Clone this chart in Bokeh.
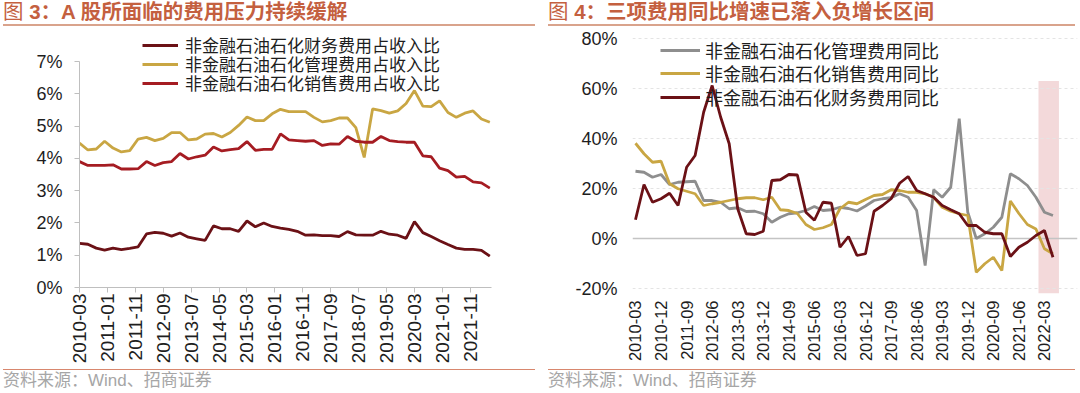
import math
from bokeh.plotting import figure
from bokeh.models import (Range1d, FixedTicker, PrintfTickFormatter, Legend, LegendItem,
                          Span, Div, ColumnDataSource)
from bokeh.layouts import row, column
from bokeh.embed import file_html
from bokeh.resources import INLINE

# ---------------- data ----------------
quarters = [f"{y}-{m:02d}" for y in range(2010, 2023) for m in (3, 6, 9, 12)][:50]

# Figure 3: expense / revenue ratios (%)
fin_ratio = [1.37, 1.34, 1.22, 1.16, 1.22, 1.17, 1.21, 1.26, 1.66, 1.71,
             1.68, 1.59, 1.69, 1.56, 1.51, 1.46, 1.91, 1.82, 1.82, 1.74,
             2.06, 1.88, 2.00, 1.89, 1.84, 1.80, 1.74, 1.62, 1.63, 1.61,
             1.61, 1.58, 1.73, 1.63, 1.62, 1.62, 1.74, 1.65, 1.62, 1.52,
             2.04, 1.70, 1.58, 1.45, 1.33, 1.22, 1.18, 1.18, 1.15, 0.97]
adm_ratio = [4.47, 4.26, 4.29, 4.53, 4.32, 4.20, 4.24, 4.60, 4.65, 4.55,
             4.62, 4.80, 4.80, 4.57, 4.60, 4.75, 4.77, 4.66, 4.80, 5.02,
             5.28, 5.17, 5.17, 5.38, 5.52, 5.45, 5.45, 5.45, 5.27, 5.13,
             5.17, 5.25, 5.25, 4.95, 4.03, 5.53, 5.48, 5.40, 5.47, 5.70,
             6.10, 5.62, 5.60, 5.78, 5.42, 5.27, 5.40, 5.47, 5.22, 5.12]
sales_ratio = [3.90, 3.78, 3.78, 3.78, 3.80, 3.67, 3.67, 3.68, 3.90, 3.78,
               3.87, 3.90, 4.15, 3.98, 4.05, 4.10, 4.35, 4.23, 4.27, 4.30,
               4.52, 4.25, 4.28, 4.28, 4.76, 4.57, 4.55, 4.53, 4.55, 4.40,
               4.45, 4.44, 4.68, 4.53, 4.50, 4.50, 4.68, 4.55, 4.52, 4.50,
               4.50, 4.08, 4.05, 3.70, 3.62, 3.42, 3.44, 3.27, 3.24, 3.08]
left_tick_labels = ["2010-03", "2011-01", "2011-11", "2012-09", "2013-07", "2014-05",
                    "2015-03", "2016-01", "2016-11", "2017-09", "2018-07", "2019-05",
                    "2020-03", "2021-01", "2021-11"]
left_y_ticks = [0, 1, 2, 3, 4, 5, 6, 7]

# Figure 4: year-on-year growth (%)
adm_yoy = [26.9, 26.5, 24.5, 25.6, 21.6, 22.5, 22.7, 22.9, 15.2, 15.2,
           14.5, 11.9, 12.3, 10.8, 10.9, 9.9, 6.5, 8.5, 9.9, 10.3,
           11.2, 12.8, 11.2, 11.5, 12.5, 12.0, 11.0, 13.0, 15.2, 15.9,
           16.3, 17.9, 16.5, 11.2, -10.8, 19.5, 16.5, 20.5, 47.9, 10.5,
           0.0, 1.9, 4.5, 8.5, 25.9, 23.9, 21.2, 16.5, 10.5, 9.2]
sales_yoy = [38.1, 33.9, 30.5, 30.9, 21.9, 19.9, 18.9, 17.9, 13.2, 13.9,
             14.5, 15.2, 15.9, 16.3, 16.3, 15.5, 16.5, 11.5, 11.2, 10.0,
             5.6, 3.6, 4.3, 5.6, 11.9, 14.5, 13.9, 15.6, 17.2, 17.6,
             19.5, 19.2, 18.5, 18.5, 17.9, 16.5, 12.5, 10.9, 9.9, 9.2,
             -13.5, -10.1, -7.5, -12.8, 15.0, 10.0, 5.6, 3.8, -4.1, -6.1]
fin_yoy = [7.5, 21.6, 14.5, 15.9, 18.1, 13.2, 28.5, 33.2, 50.5, 61.2,
           48.5, 37.9, 11.9, 1.9, 1.6, 2.9, 23.2, 23.5, 25.6, 25.4,
           10.5, 7.3, 14.5, 14.1, -3.5, 0.8, -6.8, -6.1, 10.9, 13.2,
           15.9, 22.1, 24.8, 19.2, 17.9, 16.5, 13.2, 11.5, 9.9, 5.2,
           5.2, 2.5, 1.9, 1.9, -7.2, -3.5, -1.5, 1.2, 3.2, -7.5]
right_y_ticks = [-20, 0, 20, 40, 60, 80]
highlight_quarters = ["2022-03", "2022-06"]
highlight_top = 63
highlight_bottom = -22

left_names = ["非金融石油石化财务费用占收入比", "非金融石油石化管理费用占收入比",
              "非金融石油石化销售费用占收入比"]
right_names = ["非金融石油石化管理费用同比", "非金融石油石化销售费用同比",
               "非金融石油石化财务费用同比"]

# ---------------- styling ----------------
CJK = "Noto Sans CJK SC"
MIX = "Liberation Sans, Noto Sans CJK SC"
LAT = "Liberation Sans"
FIG_H = 343
DARK = "#6B1116"
GOLD = "#C9A643"
RED = "#A51C22"
GRAY = "#8E8E8E"
AXIS_GRAY = "#BFBFBF"
TXT = "#1E1E1E"


def month_index(label):
    y, m = label.split("-")
    return (int(y) - 2010) * 12 + int(m) - 3


def single_legend(label, renderer, loc, glyph_w, standoff, size):
    return Legend(items=[LegendItem(label=label, renderers=[renderer])],
                  location=loc, orientation="vertical",
                  background_fill_alpha=0, border_line_color=None,
                  glyph_width=glyph_w, glyph_height=20, label_height=30,
                  label_standoff=standoff, spacing=0, padding=0, margin=0,
                  label_text_font=MIX, label_text_font_size=size,
                  label_text_color=TXT)


# ---------------- left chart ----------------
xm = [month_index(q) for q in quarters]
src1 = ColumnDataSource(dict(x=xm, fin=fin_ratio, adm=adm_ratio, sales=sales_ratio))
x_end_left = xm[-1] + 0.6

p1 = figure(width=540, height=FIG_H, x_range=Range1d(0, x_end_left), y_range=Range1d(0, 7.93),
            output_backend="svg", toolbar_location=None, title=None,
            min_border_left=79, min_border_right=49, min_border_top=5, min_border_bottom=82)
p1.outline_line_color = None
p1.grid.visible = False
p1.background_fill_color = "white"

r_fin = p1.line("x", "fin", source=src1, line_color=DARK, line_width=2.8)
r_adm = p1.line("x", "adm", source=src1, line_color=GOLD, line_width=2.8)
r_sal = p1.line("x", "sales", source=src1, line_color=RED, line_width=2.8)

for lab, rend, yb in zip(left_names, [r_fin, r_adm, r_sal], [227.5, 208.5, 189.5]):
    p1.add_layout(single_legend(lab, rend, (63, yb), 36, 7, "17px"))

xa = p1.xaxis[0]
xa.ticker = FixedTicker(ticks=[month_index(l) for l in left_tick_labels])
xa.major_label_overrides = {month_index(l): l for l in left_tick_labels}
xa.major_label_orientation = math.pi / 2
xa.bounds = (0, x_end_left)
xa.axis_line_color = AXIS_GRAY
xa.major_tick_line_color = AXIS_GRAY
xa.major_tick_out = 5
xa.major_tick_in = 0
xa.minor_tick_line_color = None
xa.major_label_standoff = 1
xa.major_label_text_font = LAT
xa.major_label_text_font_size = "19px"
xa.major_label_text_color = TXT

ya = p1.yaxis[0]
ya.ticker = FixedTicker(ticks=left_y_ticks)
ya.formatter = PrintfTickFormatter(format="%d%%")
ya.bounds = (0, 7)
ya.axis_line_color = AXIS_GRAY
ya.major_tick_line_color = AXIS_GRAY
ya.major_tick_out = 5
ya.major_tick_in = 0
ya.minor_tick_line_color = None
ya.major_label_standoff = 12
ya.major_label_text_font = LAT
ya.major_label_text_font_size = "18px"
ya.major_label_text_color = TXT

# ---------------- right chart ----------------
xi = list(range(len(quarters)))
src2 = ColumnDataSource(dict(x=xi, adm=adm_yoy, sales=sales_yoy, fin=fin_yoy))

p2 = figure(width=538, height=FIG_H, x_range=Range1d(-0.35, 51.88), y_range=Range1d(-22, 82.8),
            output_backend="svg", toolbar_location=None, title=None,
            min_border_left=92, min_border_right=1, min_border_top=5, min_border_bottom=76)
p2.outline_line_color = None
p2.xgrid.visible = False
p2.ygrid.ticker = FixedTicker(ticks=[t for t in right_y_ticks if t != 0])
p2.ygrid.grid_line_color = "#E4E4E4"
p2.ygrid.grid_line_dash = "3 3"

hl_l = quarters.index(highlight_quarters[0]) - 0.7
hl_r = quarters.index(highlight_quarters[1]) + 0.7
p2.quad(left=[hl_l], right=[hl_r], bottom=[highlight_bottom], top=[highlight_top],
        fill_color="#F3D9DA", line_color=None, level="underlay")
zero = Span(location=0, dimension="width", line_color="#C4C4C4", line_width=1.5, level="underlay")
p2.add_layout(zero)

g_adm = p2.line("x", "adm", source=src2, line_color=GRAY, line_width=2.8)
g_sal = p2.line("x", "sales", source=src2, line_color=GOLD, line_width=2.8)
g_fin = p2.line("x", "fin", source=src2, line_color=DARK, line_width=2.8)

for lab, rend, yb in zip(right_names, [g_adm, g_sal, g_fin], [228, 204.7, 180.7]):
    p2.add_layout(single_legend(lab, rend, (28, yb), 40, 5, "18px"))

xb = p2.xaxis[0]
xb.ticker = FixedTicker(ticks=xi[::3])
xb.major_label_overrides = {i: quarters[i] for i in xi[::3]}
xb.major_label_orientation = math.pi / 2
xb.axis_line_color = None
xb.major_tick_line_color = None
xb.major_tick_out = 0
xb.major_tick_in = 0
xb.minor_tick_line_color = None
xb.major_label_standoff = 7
xb.major_label_text_font = LAT
xb.major_label_text_font_size = "16.5px"
xb.major_label_text_color = TXT

yb_ax = p2.yaxis[0]
yb_ax.ticker = FixedTicker(ticks=right_y_ticks)
yb_ax.formatter = PrintfTickFormatter(format="%d%%")
yb_ax.axis_line_color = None
yb_ax.major_tick_line_color = None
yb_ax.major_tick_out = 0
yb_ax.major_tick_in = 0
yb_ax.minor_tick_line_color = None
yb_ax.major_label_standoff = 15
yb_ax.major_label_text_font = LAT
yb_ax.major_label_text_font_size = "18px"
yb_ax.major_label_text_color = TXT

# ---------------- titles / footers ----------------
TITLE_COLOR = "#C4603F"
FAM = "'Liberation Sans', 'Noto Sans CJK SC'"


def title_div(num, text, w, margin):
    html = (f'<div style="font-family:{FAM}; font-size:20.5px; line-height:24px; '
            f'color:{TITLE_COLOR}; white-space:nowrap;">'
            f'<span style="font-weight:normal">图 </span><b>{num}：{text}</b></div>')
    return Div(text=html, width=w, height=26, margin=margin,
               styles={"border-bottom": "2px solid #D9A38C", "box-sizing": "border-box"})


def foot_div(w, margin):
    html = (f'<div style="font-family:{FAM}; font-size:17px; line-height:20px; '
            f'color:#A6A6A6; padding-top:1px; white-space:nowrap;">资料来源：Wind、招商证券</div>')
    return Div(text=html, width=w, height=23, margin=margin,
               styles={"border-top": "1.5px solid #D8876E", "box-sizing": "border-box"})


t1 = title_div(3, "A 股所面临的费用压力持续缓解", 532, (0, 5, 0, 3))
t2 = title_div(4, "三项费用同比增速已落入负增长区间", 527, (0, 3, 0, 8))
f1 = foot_div(532, (0, 5, 0, 3))
f2 = foot_div(527, (0, 3, 0, 8))

layout = row(column(t1, p1, f1, spacing=0), column(t2, p2, f2, spacing=0), spacing=0)

open("out.html", "w").write(file_html(layout, INLINE))
